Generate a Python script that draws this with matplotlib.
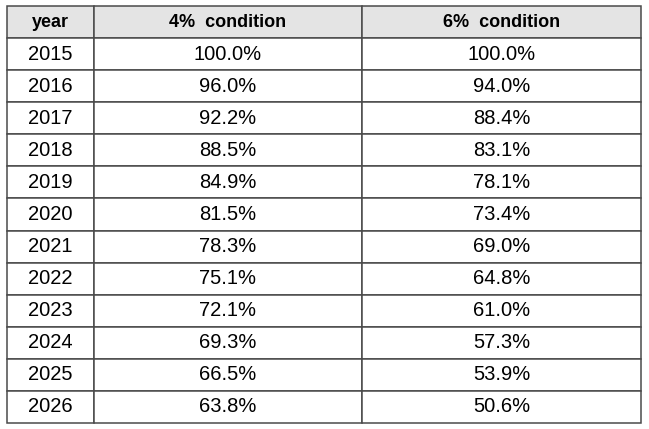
import matplotlib.pyplot as plt

plt.rcParams['font.family'] = ['Liberation Sans', 'DejaVu Sans']

# table data
columns = ['year', '4%  condition', '6%  condition']
years = ['2015', '2016', '2017', '2018', '2019', '2020',
         '2021', '2022', '2023', '2024', '2025', '2026']
cond_4 = [100.0, 96.0, 92.2, 88.5, 84.9, 81.5, 78.3, 75.1, 72.1, 69.3, 66.5, 63.8]
cond_6 = [100.0, 94.0, 88.4, 83.1, 78.1, 73.4, 69.0, 64.8, 61.0, 57.3, 53.9, 50.6]

W, H = 649, 429
fig = plt.figure(figsize=(W / 100, H / 100), dpi=100)
ax = fig.add_axes([0, 0, 1, 1])
ax.axis('off')

cells = [[y, f'{a:.1f}%', f'{b:.1f}%'] for y, a, b in zip(years, cond_4, cond_6)]

left, right, top, bottom = 7, 641, 6, 423
col_px = [87, 268, 279]
tot = sum(col_px)
tbl = ax.table(cellText=cells, colLabels=columns,
               colWidths=[c / tot for c in col_px],
               cellLoc='center',
               bbox=[left / W, 1 - bottom / H, (right - left) / W, (bottom - top) / H])
tbl.auto_set_font_size(False)

for (r, c), cell in tbl.get_celld().items():
    cell.set_edgecolor('#4a4a4a')
    cell.set_linewidth(1.1)
    txt = cell.get_text()
    txt.set_color('black')
    if r == 0:
        cell.set_facecolor('#e4e4e4')
        txt.set_fontweight('bold')
        txt.set_fontsize(13)
    else:
        cell.set_facecolor('white')
        txt.set_fontsize(14.5)

fig.savefig('out.png', dpi=100)
